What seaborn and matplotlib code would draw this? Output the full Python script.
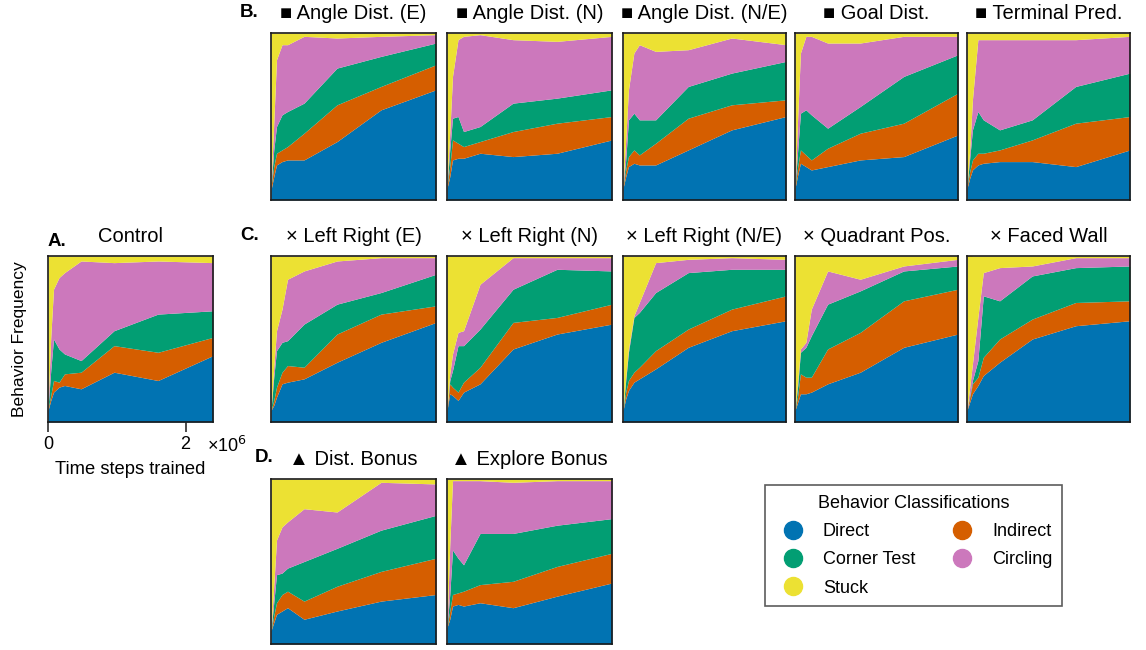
import numpy as np
import matplotlib
matplotlib.use("Agg")
import matplotlib.pyplot as plt
from matplotlib.lines import Line2D
import seaborn as sns

sns.set_theme(style="white")
plt.rcParams["font.family"] = ["Liberation Sans", "DejaVu Sans"]
plt.rcParams["text.color"] = "black"
plt.rcParams["axes.labelcolor"] = "black"
plt.rcParams["xtick.color"] = "black"

# ---------------- data ----------------
time_steps = [0, 40000, 80000, 160000, 240000, 480000, 960000, 1600000, 2400000]
behaviors = ["Direct", "Indirect", "Corner Test", "Circling", "Stuck"]
legend_order = ["Direct", "Corner Test", "Stuck", "Indirect", "Circling"]
x_ticks = [0, 2000000]

# percent of episodes per behavior at each time step
control = {
    "Direct":      [7, 13, 18, 21, 22, 20, 30, 25, 40],
    "Indirect":    [1, 3, 7, 3, 7, 10, 16, 17, 11],
    "Corner Test": [0, 15, 25, 20, 12, 7, 9, 23, 16],
    "Circling":    [1, 20, 30, 43, 49, 60, 41, 32, 29],
    "Stuck":       [91, 49, 20, 13, 10, 3, 4, 3, 4],
}
angle_e = {
    "Direct":      [6, 14, 21, 23, 24, 24, 35, 54, 66],
    "Indirect":    [2, 6, 7, 7, 8, 16, 22, 14, 15],
    "Corner Test": [0, 10, 16, 21, 21, 18, 22, 18, 13],
    "Circling":    [0, 16, 40, 42, 40, 40, 18, 12, 5],
    "Stuck":       [92, 54, 16, 7, 7, 2, 3, 2, 1],
}
angle_n = {
    "Direct":      [7, 14, 24, 25, 25, 28, 26, 28, 36],
    "Indirect":    [1, 6, 12, 9, 7, 7, 15, 18, 14],
    "Corner Test": [0, 10, 13, 16, 9, 9, 17, 15, 16],
    "Circling":    [1, 10, 25, 46, 57, 55, 38, 34, 32],
    "Stuck":       [91, 60, 26, 4, 2, 1, 4, 5, 2],
}
angle_ne = {
    "Direct":      [7, 14, 20, 22, 21, 21, 30, 42, 50],
    "Indirect":    [1, 4, 6, 8, 6, 13, 19, 15, 10],
    "Corner Test": [0, 6, 22, 22, 21, 14, 19, 19, 23],
    "Circling":    [0, 12, 18, 36, 45, 41, 22, 21, 10],
    "Stuck":       [92, 64, 34, 12, 7, 11, 10, 3, 7],
}
goal_dist = {
    "Direct":      [7, 15, 22, 20, 18, 20, 24, 26, 39],
    "Indirect":    [1, 5, 8, 7, 6, 11, 16, 20, 25],
    "Corner Test": [0, 10, 22, 27, 27, 12, 16, 28, 23],
    "Circling":    [0, 20, 36, 44, 47, 51, 38, 24, 11],
    "Stuck":       [92, 50, 12, 2, 2, 6, 6, 2, 2],
}
terminal_pred = {
    "Direct":      [7, 13, 18, 21, 22, 23, 23, 20, 30],
    "Indirect":    [1, 4, 6, 7, 6, 7, 13, 26, 20],
    "Corner Test": [0, 8, 18, 25, 20, 12, 12, 22, 26],
    "Circling":    [0, 5, 18, 43, 48, 54, 48, 28, 22],
    "Stuck":       [92, 70, 40, 4, 4, 4, 4, 4, 2],
}
lr_e = {
    "Direct":      [7, 10, 15, 23, 24, 26, 36, 48, 60],
    "Indirect":    [0, 3, 6, 7, 10, 7, 17, 17, 10],
    "Corner Test": [0, 14, 22, 18, 15, 26, 18, 13, 19],
    "Circling":    [0, 6, 12, 20, 37, 32, 26, 21, 10],
    "Stuck":       [93, 67, 45, 32, 14, 9, 3, 1, 1],
}
lr_n = {
    "Direct":      [7, 17, 16, 13, 18, 23, 44, 53, 59],
    "Indirect":    [0, 6, 5, 5, 6, 10, 16, 10, 12],
    "Corner Test": [0, 2, 10, 28, 22, 23, 20, 29, 20],
    "Circling":    [0, 4, 10, 8, 9, 27, 19, 7, 8],
    "Stuck":       [93, 71, 59, 46, 45, 17, 1, 1, 1],
}
lr_ne = {
    "Direct":      [7, 14, 19, 24, 26, 32, 45, 55, 61],
    "Indirect":    [0, 4, 6, 6, 7, 11, 11, 13, 15],
    "Corner Test": [0, 7, 17, 33, 33, 35, 34, 24, 16],
    "Circling":    [0, 2, 2, 1, 6, 18, 8, 7, 6],
    "Stuck":       [93, 73, 56, 36, 28, 4, 2, 1, 2],
}
quadrant_pos = {
    "Direct":      [7, 12, 17, 17, 18, 23, 30, 45, 53],
    "Indirect":    [0, 4, 12, 10, 9, 21, 24, 28, 27],
    "Corner Test": [0, 6, 13, 18, 25, 27, 25, 18, 14],
    "Circling":    [0, 3, 2, 3, 16, 20, 7, 3, 4],
    "Stuck":       [93, 75, 56, 52, 32, 9, 14, 6, 2],
}
faced_wall = {
    "Direct":      [7, 12, 17, 22, 28, 36, 50, 58, 61],
    "Indirect":    [0, 3, 6, 5, 11, 14, 12, 14, 12],
    "Corner Test": [0, 1, 2, 10, 37, 23, 26, 21, 21],
    "Circling":    [0, 5, 10, 26, 14, 20, 6, 6, 5],
    "Stuck":       [93, 80, 65, 37, 10, 7, 6, 1, 1],
}
dist_bonus = {
    "Direct":      [8, 13, 18, 20, 22, 15, 20, 26, 30],
    "Indirect":    [0, 4, 7, 10, 10, 11, 15, 18, 22],
    "Corner Test": [0, 8, 17, 13, 14, 24, 23, 25, 26],
    "Circling":    [0, 10, 21, 28, 28, 32, 22, 29, 19],
    "Stuck":       [92, 65, 37, 29, 26, 18, 20, 2, 3],
}
explore_bonus = {
    "Direct":      [10, 15, 23, 24, 23, 25, 22, 29, 37],
    "Indirect":    [0, 5, 7, 7, 9, 11, 16, 18, 18],
    "Corner Test": [0, 10, 27, 21, 16, 31, 29, 25, 21],
    "Circling":    [0, 30, 42, 47, 51, 32, 31, 27, 23],
    "Stuck":       [90, 40, 1, 1, 1, 1, 2, 1, 1],
}

titles_b = ["■ Angle Dist. (E)", "■ Angle Dist. (N)", "■ Angle Dist. (N/E)",
            "■ Goal Dist.", "■ Terminal Pred."]
titles_c = ["× Left Right (E)", "× Left Right (N)", "× Left Right (N/E)",
            "× Quadrant Pos.", "× Faced Wall"]
titles_d = ["▲ Dist. Bonus", "▲ Explore Bonus"]

# ---------------- style ----------------
pal = sns.color_palette("colorblind")
colors = {
    "Direct": pal[0],
    "Indirect": pal[3],
    "Corner Test": pal[2],
    "Circling": pal[4],
    "Stuck": pal[8],
}

W, H = 1146, 650
fig = plt.figure(figsize=(W / 100, H / 100), dpi=100)


def rect(left, top, w, h):
    return [left / W, 1 - (top + h) / H, w / W, h / H]


def draw(ax, data, title, show_axes=False):
    ys = [data[b] for b in behaviors]
    ax.stackplot(time_steps, *ys, colors=[colors[b] for b in behaviors], linewidth=0)
    ax.set_xlim(0, time_steps[-1])
    ax.set_ylim(0, 100)
    ax.set_title(title, fontsize=14.5, pad=10)
    for s in ax.spines.values():
        s.set_color("#1a1a1a")
        s.set_linewidth(1.2)
    ax.set_yticks([])
    if show_axes:
        ax.set_xticks(x_ticks)
        ax.set_xticklabels([f"{v / 1e6:g}" for v in x_ticks])
        ax.tick_params(axis="x", bottom=True, length=7, width=1.1, labelsize=13,
                       pad=3, color="#1a1a1a")
        ax.set_xlabel("Time steps trained", fontsize=13.2, labelpad=6)
        ax.set_ylabel("Behavior Frequency", fontsize=12.5, labelpad=15)
    else:
        ax.set_xticks([])


# Panel A
axA = fig.add_axes(rect(48, 256, 165, 166))
draw(axA, control, "Control", show_axes=True)
fig.text(207 / W, 1 - 452 / H, "×10$^{6}$", fontsize=13, va="baseline", ha="left")

lefts = [271, 447, 623, 795, 967]
widths = [165, 165, 163, 163, 163]
for i, (d, t) in enumerate(zip([angle_e, angle_n, angle_ne, goal_dist, terminal_pred], titles_b)):
    draw(fig.add_axes(rect(lefts[i], 33, widths[i], 167)), d, t)
for i, (d, t) in enumerate(zip([lr_e, lr_n, lr_ne, quadrant_pos, faced_wall], titles_c)):
    draw(fig.add_axes(rect(lefts[i], 256, widths[i], 166)), d, t)
for i, (d, t) in enumerate(zip([dist_bonus, explore_bonus], titles_d)):
    draw(fig.add_axes(rect(lefts[i], 479, widths[i], 165)), d, t)

# panel letters
for txt, x, y in [("A.", 48, 246), ("B.", 240, 17), ("C.", 240, 240), ("D.", 255, 462)]:
    fig.text(x / W, 1 - y / H, txt, fontsize=13.5, fontweight="bold", va="baseline", ha="left")

# legend
handles = [Line2D([], [], marker="o", ls="", color=colors[b], markersize=13) for b in legend_order]
leg = fig.legend(handles, legend_order, loc="upper left",
                 bbox_to_anchor=(765 / W, 1 - 485 / H), ncol=2,
                 title="Behavior Classifications", fontsize=13, title_fontsize=13,
                 frameon=True, fancybox=False, edgecolor="#333333",
                 handletextpad=0.65, columnspacing=1.6, borderpad=0.55,
                 labelspacing=0.62, borderaxespad=0)
leg.get_frame().set_linewidth(1.2)

fig.savefig("out.png", dpi=100)
